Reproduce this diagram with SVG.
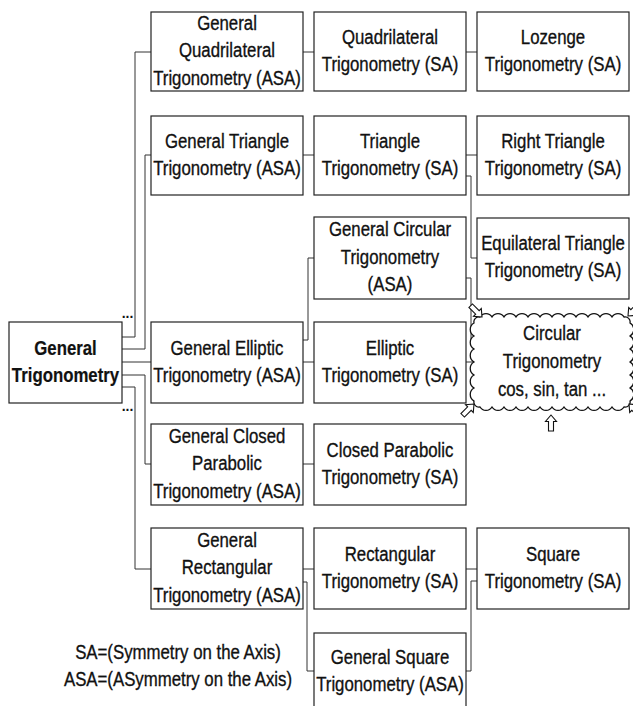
<svg xmlns="http://www.w3.org/2000/svg" xmlns:xlink="http://www.w3.org/1999/xlink" width="633" height="706" viewBox="0 0 633 706">
<style>
.box{fill:#fff;stroke:#222;stroke-width:1.2}
.t{font-family:"Liberation Sans",Arial,sans-serif;font-size:21px;text-anchor:middle;fill:#111;stroke:#111;stroke-width:0.35}
.b{font-weight:bold;stroke-width:0.2}
.dots{font-family:"Liberation Sans",Arial,sans-serif;font-size:14px;font-weight:bold;text-anchor:middle;fill:#111}
.c{fill:none;stroke:#333;stroke-width:1}
.arr{fill:#fff;stroke:#111;stroke-width:1.1}
.cloud{fill:#fff;stroke:#111;stroke-width:1.3}
</style>
<defs>
<polygon id="arr" class="arr" points="0,0 5.5,6.5 2.5,6.5 2.5,16 -2.5,16 -2.5,6.5 -5.5,6.5"/>
</defs>
<rect width="633" height="706" fill="#fff"/>
<g id="connectors">
<polyline class="c" points="122,337 135,337 135,52 151,52"/>
<polyline class="c" points="122,349 145,349 145,155 151,155"/>
<polyline class="c" points="122,362 151,362"/>
<polyline class="c" points="122,375 145,375 145,464 151,464"/>
<polyline class="c" points="122,387 135,387 135,569 151,569"/>
<polyline class="c" points="303,52 314,52"/>
<polyline class="c" points="303,155 314,155"/>
<polyline class="c" points="303,340 308,340 308,258 314,258"/>
<polyline class="c" points="303,362 314,362"/>
<polyline class="c" points="303,464 314,464"/>
<polyline class="c" points="303,569 314,569"/>
<polyline class="c" points="303,582 307,582 307,671 314,671"/>
<polyline class="c" points="466,52 477,52"/>
<polyline class="c" points="466,155 477,155"/>
<polyline class="c" points="466,176 471,176 471,258 477,258"/>
<polyline class="c" points="466,278 471,278 471,340 480,340"/>
<polyline class="c" points="466,362 480,362"/>
<polyline class="c" points="466,569 477,569"/>
<polyline class="c" points="466,671 471,671 471,581 477,581"/>
</g>
<g id="n-general">
<rect class="box" x="9" y="322" width="113" height="81"/>
<text class="t b" transform="translate(65.5,0) scale(0.8,1)"><tspan x="0" y="355.5">General</tspan><tspan x="0" y="382.5">Trigonometry</tspan></text>
</g>
<text class="dots" x="127.5" y="318">...</text>
<text class="dots" x="127.5" y="411">...</text>
<g id="n-gquad">
<rect class="box" x="151" y="12" width="152" height="79"/>
<text class="t" transform="translate(227,0) scale(0.8,1)"><tspan x="0" y="30">General</tspan><tspan x="0" y="57.5">Quadrilateral</tspan><tspan x="0" y="85">Trigonometry (ASA)</tspan></text>
</g>
<g id="n-gtri">
<rect class="box" x="151" y="116" width="152" height="79"/>
<text class="t" transform="translate(227,0) scale(0.8,1)"><tspan x="0" y="148.5">General Triangle</tspan><tspan x="0" y="175.5">Trigonometry (ASA)</tspan></text>
</g>
<g id="n-gell">
<rect class="box" x="151" y="322" width="152" height="81"/>
<text class="t" transform="translate(227,0) scale(0.8,1)"><tspan x="0" y="355">General Elliptic</tspan><tspan x="0" y="382">Trigonometry (ASA)</tspan></text>
</g>
<g id="n-gpar">
<rect class="box" x="151" y="424" width="152" height="81"/>
<text class="t" transform="translate(227,0) scale(0.8,1)"><tspan x="0" y="443">General Closed</tspan><tspan x="0" y="470.5">Parabolic</tspan><tspan x="0" y="498">Trigonometry (ASA)</tspan></text>
</g>
<g id="n-grect">
<rect class="box" x="151" y="528" width="152" height="81"/>
<text class="t" transform="translate(227,0) scale(0.8,1)"><tspan x="0" y="547">General</tspan><tspan x="0" y="574.5">Rectangular</tspan><tspan x="0" y="602">Trigonometry (ASA)</tspan></text>
</g>
<g id="n-quad">
<rect class="box" x="314" y="12" width="152" height="79"/>
<text class="t" transform="translate(390,0) scale(0.8,1)"><tspan x="0" y="44.5">Quadrilateral</tspan><tspan x="0" y="71.5">Trigonometry (SA)</tspan></text>
</g>
<g id="n-tri">
<rect class="box" x="314" y="116" width="152" height="79"/>
<text class="t" transform="translate(390,0) scale(0.8,1)"><tspan x="0" y="148.5">Triangle</tspan><tspan x="0" y="175.5">Trigonometry (SA)</tspan></text>
</g>
<g id="n-gcirc">
<rect class="box" x="314" y="217" width="152" height="82"/>
<text class="t" transform="translate(390,0) scale(0.8,1)"><tspan x="0" y="236.5">General Circular</tspan><tspan x="0" y="264">Trigonometry</tspan><tspan x="0" y="291.5">(ASA)</tspan></text>
</g>
<g id="n-ell">
<rect class="box" x="314" y="322" width="152" height="81"/>
<text class="t" transform="translate(390,0) scale(0.8,1)"><tspan x="0" y="355">Elliptic</tspan><tspan x="0" y="382">Trigonometry (SA)</tspan></text>
</g>
<g id="n-par">
<rect class="box" x="314" y="424" width="152" height="81"/>
<text class="t" transform="translate(390,0) scale(0.8,1)"><tspan x="0" y="457.5">Closed Parabolic</tspan><tspan x="0" y="484.5">Trigonometry (SA)</tspan></text>
</g>
<g id="n-rect">
<rect class="box" x="314" y="528" width="152" height="81"/>
<text class="t" transform="translate(390,0) scale(0.8,1)"><tspan x="0" y="561">Rectangular</tspan><tspan x="0" y="588">Trigonometry (SA)</tspan></text>
</g>
<g id="n-gsq">
<rect class="box" x="314" y="633" width="152" height="80"/>
<text class="t" transform="translate(390,0) scale(0.8,1)"><tspan x="0" y="664.5">General Square</tspan><tspan x="0" y="691">Trigonometry (ASA)</tspan></text>
</g>
<g id="n-loz">
<rect class="box" x="477" y="12" width="152" height="79"/>
<text class="t" transform="translate(553,0) scale(0.8,1)"><tspan x="0" y="44.5">Lozenge</tspan><tspan x="0" y="71.5">Trigonometry (SA)</tspan></text>
</g>
<g id="n-rtri">
<rect class="box" x="477" y="116" width="152" height="79"/>
<text class="t" transform="translate(553,0) scale(0.8,1)"><tspan x="0" y="148.5">Right Triangle</tspan><tspan x="0" y="175.5">Trigonometry (SA)</tspan></text>
</g>
<g id="n-eqtri">
<rect class="box" x="477" y="218" width="152" height="81"/>
<text class="t" transform="translate(553,0) scale(0.8,1)"><tspan x="0" y="250.5">Equilateral Triangle</tspan><tspan x="0" y="277.5">Trigonometry (SA)</tspan></text>
</g>
<g id="n-sq">
<rect class="box" x="477" y="528" width="152" height="81"/>
<text class="t" transform="translate(553,0) scale(0.8,1)"><tspan x="0" y="561">Square</tspan><tspan x="0" y="588">Trigonometry (SA)</tspan></text>
</g>
<g id="n-circ">
<path class="cloud" d="M480,317 a7 7 0 0 1 12 0 a7 7 0 0 1 12 0 a7 7 0 0 1 12 0 a7 7 0 0 1 12 0 a7 7 0 0 1 12 0 a7 7 0 0 1 12 0 a7 7 0 0 1 12 0 a7 7 0 0 1 12 0 a7 7 0 0 1 12 0 a7 7 0 0 1 12 0 a7 7 0 0 1 12 0 a7 7 0 0 1 12 0 a5 5 0 0 1 6 6 a7.5 7.5 0 0 1 0 13 a7.5 7.5 0 0 1 0 13 a7.5 7.5 0 0 1 0 13 a7.5 7.5 0 0 1 0 13 a7.5 7.5 0 0 1 0 13 a7.5 7.5 0 0 1 0 13 a5 5 0 0 1 -6 6 a7 7 0 0 1 -12 0 a7 7 0 0 1 -12 0 a7 7 0 0 1 -12 0 a7 7 0 0 1 -12 0 a7 7 0 0 1 -12 0 a7 7 0 0 1 -12 0 a7 7 0 0 1 -12 0 a7 7 0 0 1 -12 0 a7 7 0 0 1 -12 0 a7 7 0 0 1 -12 0 a7 7 0 0 1 -12 0 a7 7 0 0 1 -12 0 a5 5 0 0 1 -6 -6 a7.5 7.5 0 0 1 0 -13 a7.5 7.5 0 0 1 0 -13 a7.5 7.5 0 0 1 0 -13 a7.5 7.5 0 0 1 0 -13 a7.5 7.5 0 0 1 0 -13 a7.5 7.5 0 0 1 0 -13 a5 5 0 0 1 6 -6 Z"/>
<text class="t" transform="translate(552,0) scale(0.8,1)"><tspan x="0" y="340">Circular</tspan><tspan x="0" y="368">Trigonometry</tspan><tspan x="0" y="396">cos, sin, tan ...</tspan></text>
</g>
<g id="arrows">
<use xlink:href="#arr" transform="translate(551,415)"/>
<use xlink:href="#arr" transform="translate(482,317) rotate(135)"/>
<use xlink:href="#arr" transform="translate(628,316) rotate(225)"/>
<use xlink:href="#arr" transform="translate(474,404) rotate(45)"/>
<use xlink:href="#arr" transform="translate(629,404) rotate(-45)"/>
</g>
<g id="legend">
<text class="t" transform="translate(178,0) scale(0.8,1)"><tspan x="0" y="659">SA=(Symmetry on the Axis)</tspan><tspan x="0" y="686">ASA=(ASymmetry on the Axis)</tspan></text>
</g>
</svg>
